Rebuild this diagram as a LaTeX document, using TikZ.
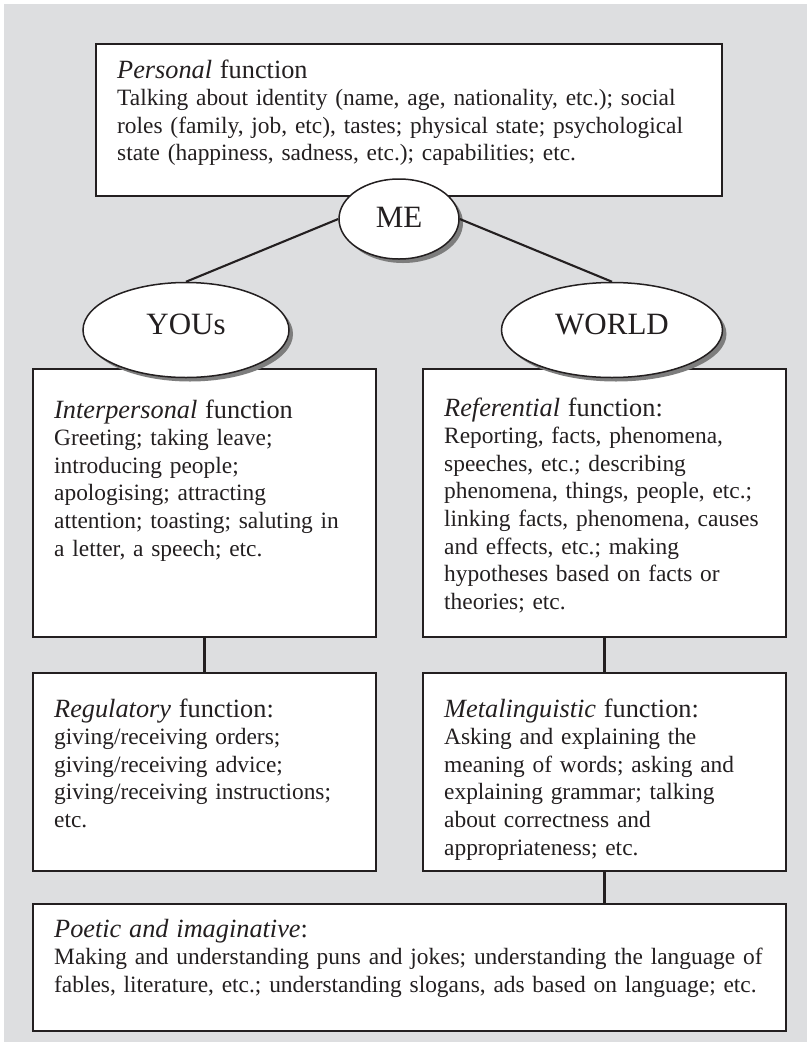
\documentclass[tikz,border=0pt]{standalone}
\usepackage{fontspec}
\setmainfont{Liberation Serif}
\usetikzlibrary{shapes.geometric,shadows}
\definecolor{bg}{RGB}{221,222,224}
\definecolor{ink}{RGB}{35,31,32}
\definecolor{shade}{RGB}{125,125,125}
% larger type for the panel headings
\newcommand{\headline}[1]{{\fontsize{26.3}{27.6}\selectfont #1}}

\begin{document}
\begin{tikzpicture}[x=1pt,y=-1pt,
  panel/.style={draw=ink, line width=1.8pt, fill=white, inner sep=0pt, rectangle},
  blurb/.style={anchor=base west, inner sep=0pt, text width=740pt, align=left,
                text=ink, font=\fontsize{23.4}{27.6}\selectfont},
  bubble/.style={ellipse, draw=ink, line width=1.5pt, fill=white, inner sep=0pt,
                 drop shadow={shadow xshift=4pt, shadow yshift=-4pt, fill=shade, opacity=1}},
  bubbletext/.style={inner sep=0pt, text=ink, font=\fontsize{31}{31}\selectfont},
  link/.style={draw=ink, line width=2.1pt}]

% page and grey backdrop
\useasboundingbox (0,0) rectangle (807,1042);
\fill[bg] (4,4) rectangle (807,1042);

% panels
\node[panel, minimum width=626pt, minimum height=152pt] (personal) at (409,120) {};
\node[panel, minimum width=343pt, minimum height=268pt] (inter) at (204.5,503) {};
\node[panel, minimum width=363pt, minimum height=268pt] (refer) at (604.5,503) {};
\node[panel, minimum width=343pt, minimum height=198pt] (regul) at (204.5,772) {};
\node[panel, minimum width=363pt, minimum height=198pt] (meta) at (604.5,772) {};
\node[panel, minimum width=753pt, minimum height=127pt] (poetic) at (409.5,967.5) {};

% ellipses with their labels
\node[bubble, minimum width=120pt, minimum height=80pt] (me) at (399,219) {};
\node[bubbletext] (meT) at (399,217) {ME};
\node[bubble, minimum width=206pt, minimum height=95pt] (yous) at (186,330) {};
\node[bubbletext] (yousT) at (186,324) {YOUs};
\node[bubble, minimum width=221pt, minimum height=95pt] (world) at (612,330) {};
\node[bubbletext] (worldT) at (612,324) {WORLD};

% connectors
\draw[link] (me.west) -- (yous.north);
\draw[link] (me.east) -- (world.north);
\draw[link] (inter.south) -- (regul.north);
\draw[link] (refer.south) -- (meta.north);
\draw[link] (meta.south) -- (meta.south |- poetic.north);

% panel texts
\node[blurb] (personalT) at (117,78) {\headline{\textit{Personal} function}\\
Talking about identity (name, age, nationality, etc.); social\\
roles (family, job, etc), tastes; physical state; psychological\\
state (happiness, sadness, etc.); capabilities; etc.};

\node[blurb] (interT) at (54,418) {\headline{\textit{Interpersonal} function}\\
Greeting; taking leave;\\
introducing people;\\
apologising; attracting\\
attention; toasting; saluting in\\
a letter, a speech; etc.};

\node[blurb] (referT) at (444,416) {\headline{\textit{Referential} function:}\\
Reporting, facts, phenomena,\\
speeches, etc.; describing\\
phenomena, things, people, etc.;\\
linking facts, phenomena, causes\\
and effects, etc.; making\\
hypotheses based on facts or\\
theories; etc.};

\node[blurb] (regulT) at (54,717) {\headline{\textit{Regulatory} function:}\\
giving/receiving orders;\\
giving/receiving advice;\\
giving/receiving instructions;\\
etc.};

\node[blurb] (metaT) at (444,717) {\headline{\textit{Metalinguistic} function:}\\
Asking and explaining the\\
meaning of words; asking and\\
explaining grammar; talking\\
about correctness and\\
appropriateness; etc.};

\node[blurb] (poeticT) at (54,937) {\headline{\textit{Poetic and imaginative}:}\\
Making and understanding puns and jokes; understanding the language of\\
fables, literature, etc.; understanding slogans, ads based on language; etc.};

\end{tikzpicture}
\end{document}
